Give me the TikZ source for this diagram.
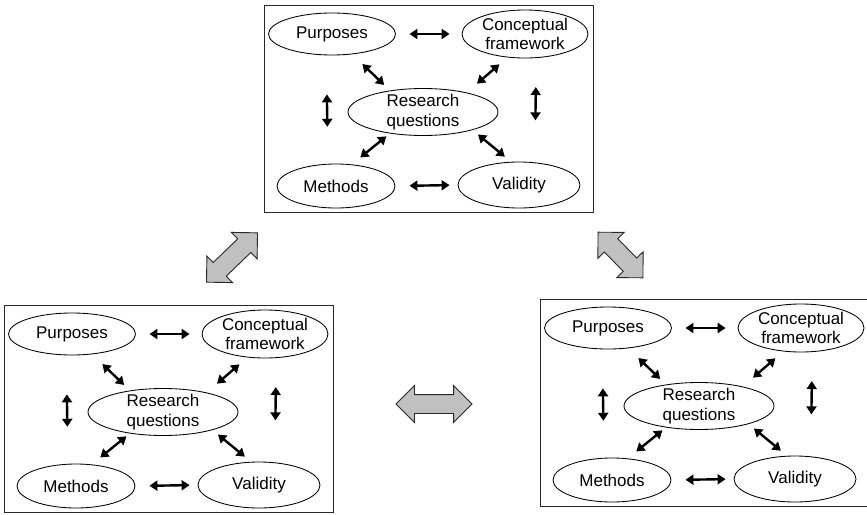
\documentclass[tikz,border=0pt]{standalone}
\usepackage{fontspec}
\setmainfont{Liberation Sans}
\usetikzlibrary{shapes.geometric,shapes.arrows,arrows.meta}
\definecolor{arrgray}{RGB}{192,192,192}
\definecolor{framecol}{RGB}{40,40,40}
\tikzset{
  oval/.style={ellipse, draw=black, line width=0.85pt, fill=white, inner sep=0pt},
  otext/.style={font=\fontsize{17}{19.5}\selectfont, align=center, inner sep=0pt},
  frame/.style={draw=framecol, line width=1.1pt, minimum width=329pt, minimum height=207pt, inner sep=0pt, anchor=north west},
  sarr/.style={line width=2.4pt, {Triangle[length=8pt,width=10pt]}-{Triangle[length=8pt,width=10pt]}},
  bigarr/.style={double arrow, draw=framecol, fill=arrgray, line width=0.9pt, inner xsep=0pt, inner ysep=9pt,
    minimum height=#1, minimum width=36pt, double arrow head extend=9pt, double arrow tip angle=90},
  rdiag/.pic={
    \node[frame] (-box) at (0,0) {};
    \node[oval, minimum width=127pt, minimum height=42pt, label={[otext]center:Purposes}] (-p) at (68,29) {};
    \node[oval, minimum width=126pt, minimum height=48pt, label={[otext]center:{Conceptual\\framework}}] (-c) at (261,29) {};
    \node[oval, minimum width=150pt, minimum height=47pt, label={[otext]center:{Research\\questions}}] (-r) at (159,107) {};
    \node[oval, minimum width=118pt, minimum height=44pt, label={[otext]center:Methods}] (-m) at (72,181) {};
    \node[oval, minimum width=122pt, minimum height=46pt, label={[otext]center:Validity}] (-v) at (255,180) {};
    \draw[sarr, shorten <=13.5pt, shorten >=12pt] (-p.east) -- (-c.west);
    \draw[sarr, shorten <=14pt, shorten >=8pt] (-m.east) -- (-v.west);
    \draw[sarr, shorten <=39pt, shorten >=37pt] (-p.255) -- (-m.110);
    \draw[sarr, shorten <=29pt, shorten >=42pt] (-c.295) -- (-v.55);
    \draw[sarr, shorten <=14pt, shorten >=8pt] (-p.315) -- (-r.147);
    \draw[sarr, shorten <=10.5pt, shorten >=13.5pt] (-c.233) -- (-r.24);
    \draw[sarr, shorten <=4.5pt, shorten >=11pt] (-r.213) -- (-m.54);
    \draw[sarr, shorten <=7pt, shorten >=8pt] (-r.340) -- (-v.109);
  }
}
\begin{document}
\begin{tikzpicture}[x=1pt,y=-1pt]
\useasboundingbox[fill=white] (0,0) rectangle (867,514);
\clip (0,0) rectangle (867,514);
\pic (top) at (264,5) {rdiag};
\pic (bl) at (4,305) {rdiag};
\pic (br) at (540,299) {rdiag};
\node[bigarr=71pt, rotate=44] (a1) at (232,257.5) {};
\node[bigarr=64pt, rotate=-45.5] (a2) at (620.5,255) {};
\node[bigarr=76pt] (a3) at (434,404) {};
\end{tikzpicture}
\end{document}
